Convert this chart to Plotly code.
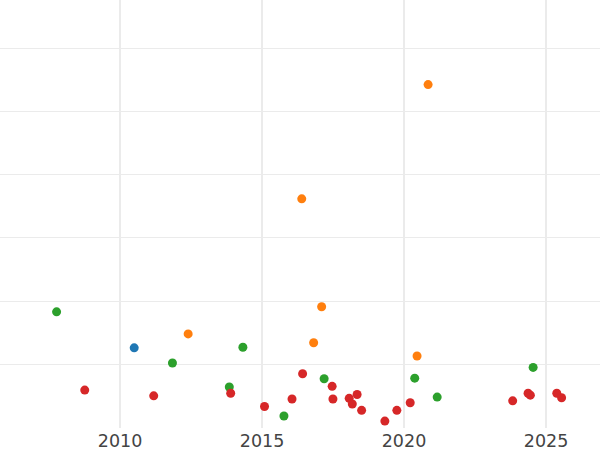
import plotly.graph_objects as go

blue_dates = ["2010-07-02"]
blue_vals = [1.26]

orange_dates = ["2012-05-26", "2016-05-26", "2016-10-26", "2017-02-06", "2020-06-17", "2020-11-06"]
orange_vals = [1.48, 3.62, 1.34, 1.91, 1.13, 5.43]

green_dates = ["2007-10-08", "2011-11-06", "2013-11-06", "2014-04-30", "2015-10-10",
               "2017-03-10", "2020-05-18", "2021-03-03", "2024-07-19"]
green_vals = [1.83, 1.02, 0.64, 1.27, 0.18, 0.77, 0.78, 0.48, 0.95]

red_dates = ["2008-10-04", "2011-03-10", "2013-11-24", "2015-02-02", "2016-01-22",
             "2016-06-06", "2017-06-21", "2017-07-01", "2018-01-26", "2018-03-07",
             "2018-05-08", "2018-07-05", "2019-04-30", "2019-10-01", "2020-03-21",
             "2023-10-30", "2024-05-15", "2024-06-13", "2025-05-19", "2025-07-20"]
red_vals = [0.59, 0.50, 0.54, 0.33, 0.45,
            0.85, 0.65, 0.45, 0.46, 0.37,
            0.52, 0.27, 0.10, 0.27, 0.39,
            0.42, 0.54, 0.51, 0.54, 0.47]

series = [
    ("A", blue_dates, blue_vals, "#1f77b4"),
    ("B", orange_dates, orange_vals, "#ff7f0e"),
    ("C", green_dates, green_vals, "#2ca02c"),
    ("D", red_dates, red_vals, "#d62728"),
]

fig = go.Figure()
for name, xs, ys, col in series:
    fig.add_trace(go.Scatter(x=xs, y=ys, mode="markers", name=name,
                             marker=dict(color=col, size=9)))

fig.update_layout(
    width=600, height=450,
    margin=dict(l=0, r=0, t=0, b=22),
    plot_bgcolor="white", paper_bgcolor="white",
    showlegend=False,
    font=dict(family="DejaVu Sans", size=17.5, color="#444444"),
)
fig.update_xaxes(range=["2005-10-10", "2026-11-26"], showgrid=True, gridcolor="#ebebeb",
                 gridwidth=2, zeroline=False, showline=False, ticks="",
                 dtick="M60", tickformat="%Y")
fig.update_yaxes(range=[-0.01, 6.77], dtick=1, showgrid=True, gridcolor="#ebebeb",
                 gridwidth=1, zeroline=False, showline=False, showticklabels=False)

fig.write_html("out.html", config={"displayModeBar": False},
               post_script="document.body.style.margin='0';document.body.style.overflow='hidden';")
